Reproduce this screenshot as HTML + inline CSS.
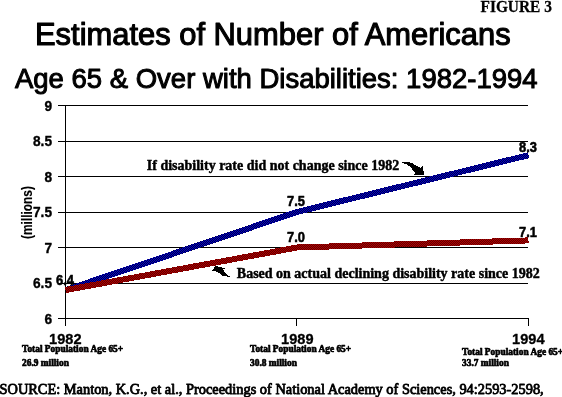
<!DOCTYPE html>
<html><head><meta charset="utf-8">
<style>
html,body{margin:0;padding:0;background:#fff;}
body{width:562px;height:397px;overflow:hidden;}
svg{display:block;}
.s{font-family:"Liberation Sans",sans-serif;}
.t{font-family:"Liberation Serif",serif;}
text{stroke:#000;stroke-linejoin:round;fill:#000;}
svg{will-change:transform;}
</style></head>
<body>
<svg width="562" height="397" viewBox="0 0 562 397">
<defs>
<pattern id="pb" width="2" height="2" patternUnits="userSpaceOnUse"><rect width="2" height="2" fill="#000046"/><rect width="1" height="1" fill="#0000c8"/><rect x="1" y="1" width="1" height="1" fill="#0000c8"/></pattern>
<pattern id="pr" width="2" height="2" patternUnits="userSpaceOnUse"><rect width="2" height="2" fill="#5f0000"/><rect width="1" height="1" fill="#af0000"/><rect x="1" y="1" width="1" height="1" fill="#af0000"/></pattern>
</defs>
<rect width="562" height="397" fill="#fff"/>
<g stroke="#000" stroke-width="1" shape-rendering="crispEdges">
<line x1="58" y1="105.5" x2="528" y2="105.5"/>
<line x1="58" y1="141.5" x2="528" y2="141.5"/>
<line x1="58" y1="176.5" x2="528" y2="176.5"/>
<line x1="58" y1="212.5" x2="528" y2="212.5"/>
<line x1="58" y1="247.5" x2="528" y2="247.5"/>
<line x1="58" y1="283.5" x2="528" y2="283.5"/>
<line x1="58" y1="318.5" x2="529" y2="318.5"/>
<line x1="65.5" y1="105" x2="65.5" y2="326"/>
<line x1="296.5" y1="318" x2="296.5" y2="326"/>
<line x1="528.5" y1="318" x2="528.5" y2="326"/>
</g>
<polyline id="blue" points="65.5,290.1 297,212 528.5,155.2" fill="none" stroke="url(#pb)" stroke-width="6" shape-rendering="crispEdges"/>
<polyline id="red" points="65.5,290.1 297,247.5 528.5,240.4" fill="none" stroke="url(#pr)" stroke-width="6" shape-rendering="crispEdges"/>
<path id="arr1" d="M402 162h8v1h-8zM404 163h9v1h-9zM407 164h7v1h-7zM408 165h8v1h-8zM410 166h8v1h-8zM422 166h1v1h-1zM411 167h9v1h-9zM421 167h2v1h-2zM412 168h11v1h-11zM412 169h11v1h-11zM413 170h10v1h-10zM414 171h10v1h-10zM415 172h9v1h-9zM415 173h9v1h-9zM414 174h10v1h-10z" fill="#000" shape-rendering="crispEdges"/>
<path id="arr2" d="M215 266h3v1h-3zM214 267h8v1h-8zM214 268h11v1h-11zM213 269h10v1h-10zM212 270h12v1h-12zM216 271h8v1h-8zM218 272h7v1h-7zM220 273h6v1h-6zM221 274h6v1h-6zM222 275h6v1h-6zM227 276h3v1h-3z" fill="#000" shape-rendering="crispEdges"/>
<text id="fig" class="t" font-weight="bold" font-size="15.4" stroke-width="0.25" transform="translate(480.5 11.8) scale(1.0 1.12)">FIGURE 3</text>
<text id="t1" class="s" font-size="30.9" stroke-width="1.1" transform="translate(35 44.6) scale(1.0 1.03)">Estimates of Number of Americans</text>
<text id="t2" class="s" font-size="27.5" stroke-width="1.0" transform="translate(15 87.6) scale(1.0 1.02)">Age 65 &amp; Over with Disabilities: 1982-1994</text>
<text id="y9" class="s" font-weight="bold" font-size="13.7" text-anchor="end" stroke-width="0.35" transform="translate(52 110.7) scale(1.0 1.12)">9</text>
<text id="y85" class="s" font-weight="bold" font-size="13.7" text-anchor="end" stroke-width="0.35" transform="translate(52 146.2) scale(1.0 1.12)">8.5</text>
<text id="y8" class="s" font-weight="bold" font-size="13.7" text-anchor="end" stroke-width="0.35" transform="translate(52 181.7) scale(1.0 1.12)">8</text>
<text id="y75" class="s" font-weight="bold" font-size="13.7" text-anchor="end" stroke-width="0.35" transform="translate(52 217.2) scale(1.0 1.12)">7.5</text>
<text id="y7" class="s" font-weight="bold" font-size="13.7" text-anchor="end" stroke-width="0.35" transform="translate(52 252.7) scale(1.0 1.12)">7</text>
<text id="y65" class="s" font-weight="bold" font-size="13.7" text-anchor="end" stroke-width="0.35" transform="translate(52 288.2) scale(1.0 1.12)">6.5</text>
<text id="y6" class="s" font-weight="bold" font-size="13.7" text-anchor="end" stroke-width="0.35" transform="translate(52 323.7) scale(1.0 1.12)">6</text>
<text id="mil" class="s" font-weight="bold" font-size="11.9" text-anchor="middle" stroke-width="0.1" transform="translate(31.5 212.5) rotate(-90) scale(1 1.18)">(millions)</text>
<text id="l64" class="s" font-weight="bold" font-size="12.9" stroke-width="0.5" transform="translate(56 284.6) scale(1.0 1.1)">6.4</text>
<text id="l75" class="s" font-weight="bold" font-size="12.9" stroke-width="0.5" transform="translate(287 206) scale(1.0 1.1)">7.5</text>
<text id="l70" class="s" font-weight="bold" font-size="12.9" stroke-width="0.5" transform="translate(287 242) scale(1.0 1.1)">7.0</text>
<text id="l83" class="s" font-weight="bold" font-size="12.9" stroke-width="0.5" transform="translate(519 152) scale(1.0 1.1)">8.3</text>
<text id="l71" class="s" font-weight="bold" font-size="12.9" stroke-width="0.5" transform="translate(519 237) scale(1.0 1.1)">7.1</text>
<text id="a1" class="t" font-weight="bold" font-size="14.0" stroke-width="0.45" transform="translate(146.8 170.3) scale(1.0 1.0)">If disability rate did not change since 1982</text>
<text id="a2" class="t" font-weight="bold" font-size="14.0" stroke-width="0.45" transform="translate(236.8 278.3) scale(1.0 1.0)">Based on actual declining disability rate since 1982</text>
<text id="x82" class="s" font-weight="bold" font-size="14.6" text-anchor="middle" stroke-width="0.3" transform="translate(65.3 344.0) scale(1.0 1.06)">1982</text>
<text id="x89" class="s" font-weight="bold" font-size="14.6" text-anchor="middle" stroke-width="0.3" transform="translate(297.3 344.0) scale(1.0 1.06)">1989</text>
<text id="x94" class="s" font-weight="bold" font-size="14.6" text-anchor="middle" stroke-width="0.3" transform="translate(528.3 344.0) scale(1.0 1.06)">1994</text>
<text id="p1a" class="t" font-weight="bold" font-size="9.4" stroke-width="0.65" transform="translate(22 352) scale(1.0 1.0)">Total Population Age 65+</text>
<text id="p1b" class="t" font-weight="bold" font-size="9.4" stroke-width="0.65" transform="translate(22 366) scale(1.0 1.0)">26.9 million</text>
<text id="p2a" class="t" font-weight="bold" font-size="9.4" stroke-width="0.65" transform="translate(250 352) scale(1.0 1.0)">Total Population Age 65+</text>
<text id="p2b" class="t" font-weight="bold" font-size="9.4" stroke-width="0.65" transform="translate(250 366) scale(1.0 1.0)">30.8 million</text>
<text id="p3a" class="t" font-weight="bold" font-size="9.4" stroke-width="0.65" transform="translate(462 355) scale(1.0 1.0)">Total Population Age 65+</text>
<text id="p3b" class="t" font-weight="bold" font-size="9.4" stroke-width="0.65" transform="translate(462 366) scale(1.0 1.0)">33.7 million</text>
<text id="src" class="t" font-size="14.38" stroke-width="0.8" transform="translate(-0.5 394) scale(1.0 1.0)">SOURCE: Manton, K.G., et al., Proceedings of National Academy of Sciences, 94:2593-2598,</text>
</svg>
</body></html>
